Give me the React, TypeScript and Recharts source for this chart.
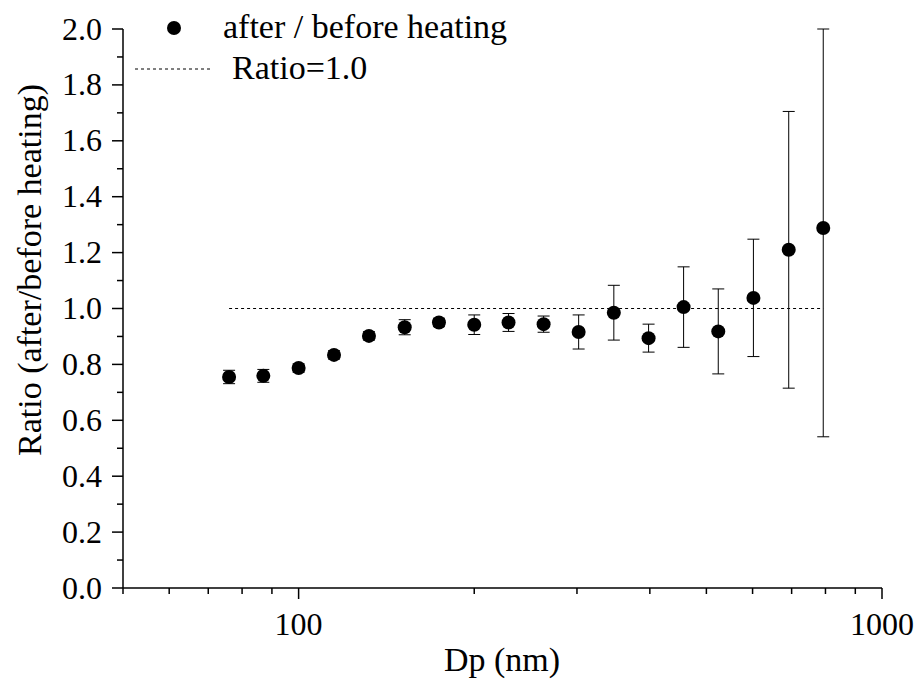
import { ComposedChart, ErrorBar, Legend, Line, Scatter, XAxis, YAxis } from "recharts";

const FONT = "'Liberation Serif', 'Tinos', 'DejaVu Serif', serif";
const Y_MAX = 2;

// particle diameter (nm) and heated/unheated ratio with its standard deviation
const DP = [76, 87, 100, 115, 132, 152, 174, 200, 229, 263, 302, 347, 398, 457, 524, 602, 692, 793];
const RATIO = [0.755, 0.759, 0.787, 0.834, 0.902, 0.933, 0.95, 0.942, 0.95, 0.944, 0.916, 0.985, 0.894, 1.005, 0.918, 1.038, 1.21, 1.288];
const ERR = [0.024, 0.023, 0.015, 0.015, 0.015, 0.027, 0.015, 0.035, 0.032, 0.029, 0.061, 0.098, 0.05, 0.144, 0.152, 0.21, 0.495, 0.747];
const REFERENCE = 1.0;

const X_TICKS = [50, 60, 70, 80, 90, 100, 200, 300, 400, 500, 600, 700, 800, 900, 1000];
const X_LABELS = [100, 1000];
const Y_TICKS = [0, 0.1, 0.2, 0.3, 0.4, 0.5, 0.6, 0.7, 0.8, 0.9, 1.0, 1.1, 1.2, 1.3, 1.4, 1.5, 1.6, 1.7, 1.8, 1.9, 2.0];

const rows = DP.map((dp, i) => ({ dp, ratio: RATIO[i], err: ERR[i], ref: REFERENCE }));

// error bar is cut at the top of the axis, like the original plot
const errorRange = (d: any) => [d.err, Math.min(d.err, Y_MAX - d.ratio)];

function XTick({ x, y, payload }: any) {
  const major = X_LABELS.includes(payload.value);
  return (
    <g>
      <line x1={x} x2={x} y1={y} y2={y + (major ? 11 : 6)} stroke="#000" strokeWidth={1.5} />
      {major && (
        <text x={x} y={y + 47} textAnchor="middle" fontSize={32} fontFamily={FONT} fill="#000">
          {payload.value}
        </text>
      )}
    </g>
  );
}

function YTick({ x, y, payload }: any) {
  const major = Math.round(payload.value * 10) % 2 === 0;
  return (
    <g>
      <line x1={x - (major ? 11 : 6)} x2={x} y1={y} y2={y} stroke="#000" strokeWidth={1.5} />
      {major && (
        <text x={x - 21} y={y + 10.5} textAnchor="end" fontSize={32} fontFamily={FONT} fill="#000">
          {payload.value.toFixed(1)}
        </text>
      )}
    </g>
  );
}

function LegendBox() {
  return (
    <svg width={420} height={95} style={{ display: "block" }}>
      <circle cx={54} cy={28} r={7} fill="#000" />
      <text x={103} y={38} fontSize={34} fontFamily={FONT} fill="#000">
        after / before heating
      </text>
      <line x1={15} x2={92} y1={69} y2={69} stroke="#000" strokeWidth={1} strokeDasharray="3 3" />
      <text x={112} y={79} fontSize={34} fontFamily={FONT} fill="#000">
        Ratio=1.0
      </text>
    </svg>
  );
}

export default function App() {
  return (
    <div style={{ position: "absolute", left: 0, top: 0, background: "#fff", fontFamily: FONT }}>
      <ComposedChart width={919} height={683} data={rows} margin={{ top: 29, right: 37, bottom: 0, left: 0 }}>
        <XAxis
          dataKey="dp"
          type="number"
          scale="log"
          domain={[50, 1000]}
          allowDataOverflow
          ticks={X_TICKS}
          interval={0}
          tickSize={0}
          tickMargin={0}
          tickLine={false}
          tick={<XTick />}
          height={95}
          axisLine={{ stroke: "#000", strokeWidth: 1.5 }}
          label={() => (
            <text x={502} y={671} textAnchor="middle" fontSize={34} fontFamily={FONT} fill="#000">
              Dp (nm)
            </text>
          )}
        />
        <YAxis
          type="number"
          domain={[0, Y_MAX]}
          allowDataOverflow
          ticks={Y_TICKS}
          interval={0}
          tickSize={0}
          tickMargin={0}
          tickLine={false}
          tick={<YTick />}
          width={123}
          axisLine={{ stroke: "#000", strokeWidth: 1.5 }}
          label={() => (
            <text
              x={41}
              y={270}
              transform="rotate(-90, 41, 270)"
              textAnchor="middle"
              fontSize={34}
              fontFamily={FONT}
              fill="#000"
            >
              Ratio (after/before heating)
            </text>
          )}
        />
        <Legend
          layout="horizontal"
          verticalAlign="middle"
          content={() => <LegendBox />}
          wrapperStyle={{ top: 0, left: 120, width: 420, height: 95 }}
        />
        <Line
          dataKey="ref"
          stroke="#000"
          strokeWidth={1}
          strokeDasharray="3 3"
          dot={false}
          activeDot={false}
          isAnimationActive={false}
        />
        <Scatter
          dataKey="ratio"
          fill="#000"
          isAnimationActive={false}
          shape={(p: any) => <circle cx={p.cx} cy={p.cy} r={7} fill="#000" />}
        >
          <ErrorBar dataKey={errorRange} direction="y" width={6} stroke="#000" strokeWidth={1} isAnimationActive={false} />
        </Scatter>
      </ComposedChart>
    </div>
  );
}
